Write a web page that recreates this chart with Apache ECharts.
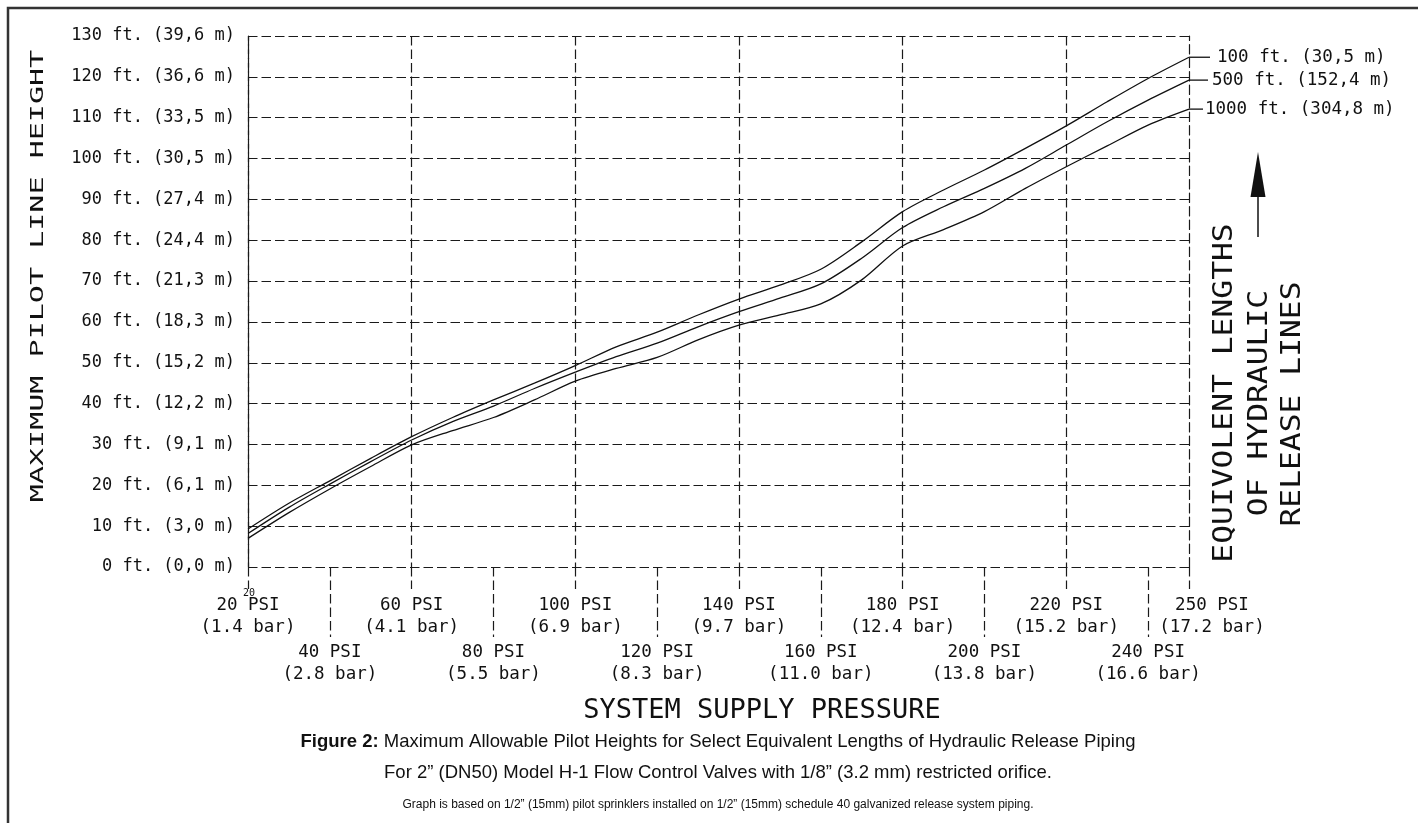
<!DOCTYPE html>
<html>
<head>
<meta charset="utf-8">
<script src="https://cdn.jsdelivr.net/npm/echarts@6/dist/echarts.min.js"></script>
<style>
html,body{margin:0;padding:0;background:#fff;}
#chart{width:1418px;height:823px;}
</style>
</head>
<body>
<div id="chart"></div>
<script>
// ---- data ----
const psi = [20,30,40,50,60,70,80,90,100,110,120,130,140,150,160,170,180,190,200,210,220,230,240,250];
const len100ft  = [9.3,15.6,21.1,26.6,31.9,36.6,40.9,45.0,49.3,53.9,57.5,61.7,65.6,69.0,72.9,79.6,87.0,92.3,97.2,102.5,108.0,113.9,119.6,124.8];
const len500ft  = [8.2,14.6,20.3,25.8,31.1,35.6,39.4,43.7,47.7,51.5,54.8,58.8,62.5,65.8,69.3,75.6,83.1,88.2,92.7,97.6,103.3,109.0,114.3,119.2];
const len1000ft = [7.0,13.3,19.1,24.6,29.9,33.4,36.6,40.9,45.5,48.6,51.3,55.6,59.2,61.7,64.4,70.3,78.6,82.6,87.0,92.7,98.0,103.1,108.2,112.1];
const seriesNames = ['100 ft. (30,5 m)','500 ft. (152,4 m)','1000 ft. (304,8 m)'];

const yTickValues = [0,10,20,30,40,50,60,70,80,90,100,110,120,130];
const yTickMeters = ['0,0','3,0','6,1','9,1','12,2','15,2','18,3','21,3','24,4','27,4','30,5','33,5','36,6','39,6'];

const xTopRow    = [20,60,100,140,180,220];
const xBottomRow = [40,80,120,160,200,240];
const xEndTick   = [250];
const xTickValues = [20,40,60,80,100,120,140,160,180,200,220,240,250];
const xTickBar    = ['1.4','2.8','4.1','5.5','6.9','8.3','9.7','11.0','12.4','13.8','15.2','16.6','17.2'];

// ---- styles ----
const CAD = 'DejaVu Sans Mono';
const INK = '#111';
const dash = [9.5,4];
const gridLine = {color:'#1a1a1a', width:1.2, type:dash};

function xLabel(raw){
  const v = Math.round(raw);
  const i = xTickValues.indexOf(v);
  if (i < 0) return '';
  if (v === 250) return '{o|' + v + ' PSI}\n{o|(' + xTickBar[i] + ' bar)}';
  return v + ' PSI\n(' + xTickBar[i] + ' bar)';
}
function yLabel(v){
  const i = yTickValues.indexOf(v);
  if (i < 0) return '';
  return v + ' ft. (' + yTickMeters[i] + ' m)';
}

const xLabelStyle = {fontFamily:CAD, fontSize:17.5, lineHeight:22.5, color:INK,
  showMinLabel:true, showMaxLabel:true, hideOverlap:false,
  rich:{o:{fontFamily:CAD, fontSize:17.5, lineHeight:22.5, color:INK, padding:[0,0,0,46]}}};

function mkXAxis(values, tickLen, margin, withSplit){
  return {type:'value', min:20, max:250, interval:20, position:'bottom', offset:0,
    axisLine:{show:false},
    axisTick:{show:true, customValues:values, length:tickLen, lineStyle:gridLine},
    axisLabel:Object.assign({customValues:values, margin:margin, formatter:xLabel}, xLabelStyle),
    splitLine:{show:withSplit, lineStyle:gridLine}};
}

function mkSeries(name, vals, conn){
  return {
    type:'line', name:name, data:psi.map((p,i)=>[p, vals[i]]),
    showSymbol:false, smooth:0.3,
    lineStyle:{color:INK, width:1.3}, itemStyle:{color:INK},
    emphasis:{disabled:true},
    endLabel:{show:true, distance:0,
      formatter:()=>'{c| }{t|' + name + '}',
      rich:{
        c:{width:conn[0], height:1.3, backgroundColor:INK, verticalAlign:'middle'},
        t:{fontFamily:CAD, fontSize:17.5, color:INK, padding:[0,0,0,conn[1]], verticalAlign:'middle'}
      }}
  };
}

const chart = echarts.init(document.getElementById('chart'), null, {renderer:'canvas'});
chart.setOption({
  animation:false,
  backgroundColor:'#fff',
  grid:{left:248, right:229, top:36, bottom:256, containLabel:false, outerBoundsMode:'none'},
  xAxis:[
    mkXAxis(xTopRow, 22, 27, true),
    mkXAxis(xBottomRow, 70, 74, false),
    mkXAxis(xEndTick, 22, 27, false)
  ],
  yAxis:[
    {type:'value', min:0, max:130, interval:10, position:'left',
     axisLine:{show:true, lineStyle:gridLine}, axisTick:{show:false},
     axisLabel:{formatter:yLabel, fontFamily:CAD, fontSize:17, color:INK, margin:13},
     splitLine:{show:true, lineStyle:gridLine}},
    {type:'value', min:0, max:130, interval:10, position:'right',
     axisLine:{show:true, lineStyle:gridLine}, axisTick:{show:false},
     axisLabel:{show:false}, splitLine:{show:false}}
  ],
  series:[
    mkSeries(seriesNames[0], len100ft, [21,7]),
    mkSeries(seriesNames[1], len500ft, [19,4]),
    mkSeries(seriesNames[2], len1000ft, [14,2])
  ],
  graphic:[
    {type:'polyline', silent:true, shape:{points:[[8,840],[8,8],[1440,8]]}, style:{stroke:'#333', lineWidth:2.5, fill:null}},
    {type:'text', silent:true, x:38, y:276, rotation:Math.PI/2, scaleX:1.67,
     style:{text:'MAXIMUM PILOT LINE HEIGHT', font:'18px "DejaVu Sans Mono"', fill:INK, align:'center', verticalAlign:'middle'}},
    {type:'text', silent:true, x:1225, y:393, rotation:Math.PI/2, scaleX:1.16,
     style:{text:'EQUIVOLENT LENGTHS', font:'27px "DejaVu Sans Mono"', fill:INK, align:'center', verticalAlign:'middle'}},
    {type:'text', silent:true, x:1260, y:403, rotation:Math.PI/2, scaleX:1.16,
     style:{text:'OF HYDRAULIC', font:'27px "DejaVu Sans Mono"', fill:INK, align:'center', verticalAlign:'middle'}},
    {type:'text', silent:true, x:1293, y:404, rotation:Math.PI/2, scaleX:1.16,
     style:{text:'RELEASE LINES', font:'27px "DejaVu Sans Mono"', fill:INK, align:'center', verticalAlign:'middle'}},
    {type:'line', silent:true, shape:{x1:1258, y1:237, x2:1258, y2:195}, style:{stroke:INK, lineWidth:1.5}},
    {type:'polygon', silent:true, shape:{points:[[1258,152],[1250.5,197],[1265.5,197]]}, style:{fill:INK}},
    {type:'text', silent:true, x:249, y:593, style:{text:'20', font:'10px "DejaVu Sans Mono"', fill:INK, align:'center', verticalAlign:'middle'}},
    {type:'text', silent:true, x:762, y:711,
     style:{text:'SYSTEM SUPPLY PRESSURE', font:'27px "DejaVu Sans Mono"', fill:INK, align:'center', verticalAlign:'middle'}},
    {type:'text', silent:true, x:718, y:742,
     style:{text:'{b|Figure 2:}{n| Maximum Allowable Pilot Heights for Select Equivalent Lengths of Hydraulic Release Piping}',
       align:'center', verticalAlign:'middle',
       rich:{b:{font:'bold 18.5px "Liberation Sans"', fill:INK}, n:{font:'18.5px "Liberation Sans"', fill:INK}}}},
    {type:'text', silent:true, x:718, y:773,
     style:{text:'For 2\u201D (DN50) Model H-1 Flow Control Valves with 1/8\u201D (3.2 mm) restricted orifice.',
       font:'18.5px "Liberation Sans"', fill:INK, align:'center', verticalAlign:'middle'}},
    {type:'text', silent:true, x:718, y:805,
     style:{text:'Graph is based on 1/2\u201D (15mm) pilot sprinklers installed on 1/2\u201D (15mm) schedule 40 galvanized release system piping.',
       font:'12px "Liberation Sans"', fill:INK, align:'center', verticalAlign:'middle'}}
  ]
});
</script>
</body>
</html>
